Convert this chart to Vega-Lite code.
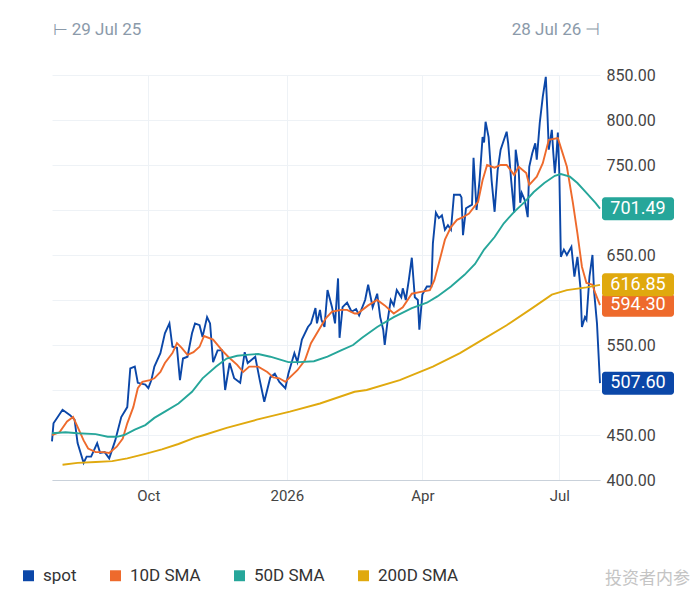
{
  "$schema": "https://vega.github.io/schema/vega-lite/v6.json",
  "width": 548,
  "height": 405,
  "autosize": {"type": "none"},
  "padding": {"left": 52, "top": 75, "right": 100, "bottom": 113},
  "background": "white",
  "title": {
    "text": "投资者内参",
    "orient": "bottom",
    "anchor": "end",
    "font": "Noto Sans CJK SC",
    "fontSize": 17,
    "fontWeight": "normal",
    "color": "#c4c4c4",
    "dx": 16,
    "offset": -13
  },
  "datasets": {
    "series": [
      {"d": "2025-07-29", "s": "spot", "v": 443}, {"d": "2025-07-30", "s": "spot", "v": 463},
      {"d": "2025-08-05", "s": "spot", "v": 478}, {"d": "2025-08-10", "s": "spot", "v": 472},
      {"d": "2025-08-13", "s": "spot", "v": 467}, {"d": "2025-08-15", "s": "spot", "v": 441},
      {"d": "2025-08-19", "s": "spot", "v": 419}, {"d": "2025-08-21", "s": "spot", "v": 426},
      {"d": "2025-08-24", "s": "spot", "v": 426}, {"d": "2025-08-28", "s": "spot", "v": 441},
      {"d": "2025-08-30", "s": "spot", "v": 430}, {"d": "2025-09-02", "s": "spot", "v": 431},
      {"d": "2025-09-05", "s": "spot", "v": 424}, {"d": "2025-09-09", "s": "spot", "v": 444},
      {"d": "2025-09-13", "s": "spot", "v": 470}, {"d": "2025-09-17", "s": "spot", "v": 481},
      {"d": "2025-09-19", "s": "spot", "v": 524}, {"d": "2025-09-22", "s": "spot", "v": 526},
      {"d": "2025-09-24", "s": "spot", "v": 508}, {"d": "2025-09-29", "s": "spot", "v": 506},
      {"d": "2025-10-01", "s": "spot", "v": 502}, {"d": "2025-10-03", "s": "spot", "v": 511},
      {"d": "2025-10-05", "s": "spot", "v": 526}, {"d": "2025-10-09", "s": "spot", "v": 541},
      {"d": "2025-10-12", "s": "spot", "v": 563}, {"d": "2025-10-15", "s": "spot", "v": 574},
      {"d": "2025-10-17", "s": "spot", "v": 548}, {"d": "2025-10-20", "s": "spot", "v": 547},
      {"d": "2025-10-22", "s": "spot", "v": 511}, {"d": "2025-10-24", "s": "spot", "v": 535},
      {"d": "2025-10-27", "s": "spot", "v": 537}, {"d": "2025-10-30", "s": "spot", "v": 563},
      {"d": "2025-11-01", "s": "spot", "v": 574}, {"d": "2025-11-04", "s": "spot", "v": 572},
      {"d": "2025-11-06", "s": "spot", "v": 559}, {"d": "2025-11-09", "s": "spot", "v": 581},
      {"d": "2025-11-11", "s": "spot", "v": 574}, {"d": "2025-11-13", "s": "spot", "v": 531},
      {"d": "2025-11-16", "s": "spot", "v": 544}, {"d": "2025-11-19", "s": "spot", "v": 544},
      {"d": "2025-11-21", "s": "spot", "v": 500}, {"d": "2025-11-24", "s": "spot", "v": 530},
      {"d": "2025-11-27", "s": "spot", "v": 513}, {"d": "2025-12-01", "s": "spot", "v": 508},
      {"d": "2025-12-04", "s": "spot", "v": 542}, {"d": "2025-12-06", "s": "spot", "v": 530},
      {"d": "2025-12-11", "s": "spot", "v": 537}, {"d": "2025-12-14", "s": "spot", "v": 511},
      {"d": "2025-12-17", "s": "spot", "v": 487}, {"d": "2025-12-21", "s": "spot", "v": 514},
      {"d": "2025-12-24", "s": "spot", "v": 518}, {"d": "2025-12-27", "s": "spot", "v": 509},
      {"d": "2025-12-31", "s": "spot", "v": 502}, {"d": "2026-01-02", "s": "spot", "v": 518},
      {"d": "2026-01-06", "s": "spot", "v": 541}, {"d": "2026-01-08", "s": "spot", "v": 531},
      {"d": "2026-01-11", "s": "spot", "v": 556}, {"d": "2026-01-15", "s": "spot", "v": 570},
      {"d": "2026-01-17", "s": "spot", "v": 574}, {"d": "2026-01-20", "s": "spot", "v": 591},
      {"d": "2026-01-21", "s": "spot", "v": 574}, {"d": "2026-01-23", "s": "spot", "v": 589},
      {"d": "2026-01-24", "s": "spot", "v": 578}, {"d": "2026-01-26", "s": "spot", "v": 570},
      {"d": "2026-01-28", "s": "spot", "v": 611}, {"d": "2026-01-31", "s": "spot", "v": 592},
      {"d": "2026-02-02", "s": "spot", "v": 574}, {"d": "2026-02-04", "s": "spot", "v": 624},
      {"d": "2026-02-05", "s": "spot", "v": 558}, {"d": "2026-02-07", "s": "spot", "v": 592},
      {"d": "2026-02-10", "s": "spot", "v": 597}, {"d": "2026-02-13", "s": "spot", "v": 587},
      {"d": "2026-02-16", "s": "spot", "v": 590}, {"d": "2026-02-18", "s": "spot", "v": 583},
      {"d": "2026-02-22", "s": "spot", "v": 600}, {"d": "2026-02-24", "s": "spot", "v": 617},
      {"d": "2026-02-27", "s": "spot", "v": 592}, {"d": "2026-03-02", "s": "spot", "v": 607},
      {"d": "2026-03-04", "s": "spot", "v": 581}, {"d": "2026-03-06", "s": "spot", "v": 567},
      {"d": "2026-03-07", "s": "spot", "v": 550}, {"d": "2026-03-09", "s": "spot", "v": 578},
      {"d": "2026-03-11", "s": "spot", "v": 600}, {"d": "2026-03-13", "s": "spot", "v": 594},
      {"d": "2026-03-15", "s": "spot", "v": 611}, {"d": "2026-03-18", "s": "spot", "v": 603},
      {"d": "2026-03-19", "s": "spot", "v": 613}, {"d": "2026-03-21", "s": "spot", "v": 600},
      {"d": "2026-03-23", "s": "spot", "v": 622}, {"d": "2026-03-25", "s": "spot", "v": 647},
      {"d": "2026-03-27", "s": "spot", "v": 603}, {"d": "2026-03-29", "s": "spot", "v": 600},
      {"d": "2026-03-30", "s": "spot", "v": 567}, {"d": "2026-04-01", "s": "spot", "v": 606},
      {"d": "2026-04-04", "s": "spot", "v": 615}, {"d": "2026-04-07", "s": "spot", "v": 615},
      {"d": "2026-04-08", "s": "spot", "v": 663}, {"d": "2026-04-10", "s": "spot", "v": 697},
      {"d": "2026-04-12", "s": "spot", "v": 691}, {"d": "2026-04-14", "s": "spot", "v": 694},
      {"d": "2026-04-16", "s": "spot", "v": 678}, {"d": "2026-04-18", "s": "spot", "v": 683},
      {"d": "2026-04-20", "s": "spot", "v": 678}, {"d": "2026-04-22", "s": "spot", "v": 717},
      {"d": "2026-04-26", "s": "spot", "v": 717}, {"d": "2026-04-27", "s": "spot", "v": 714},
      {"d": "2026-04-28", "s": "spot", "v": 672}, {"d": "2026-04-30", "s": "spot", "v": 702},
      {"d": "2026-05-04", "s": "spot", "v": 706}, {"d": "2026-05-05", "s": "spot", "v": 758},
      {"d": "2026-05-07", "s": "spot", "v": 700}, {"d": "2026-05-09", "s": "spot", "v": 733},
      {"d": "2026-05-11", "s": "spot", "v": 781}, {"d": "2026-05-12", "s": "spot", "v": 775},
      {"d": "2026-05-13", "s": "spot", "v": 798}, {"d": "2026-05-15", "s": "spot", "v": 781},
      {"d": "2026-05-17", "s": "spot", "v": 733}, {"d": "2026-05-19", "s": "spot", "v": 698},
      {"d": "2026-05-21", "s": "spot", "v": 744}, {"d": "2026-05-23", "s": "spot", "v": 767},
      {"d": "2026-05-27", "s": "spot", "v": 787}, {"d": "2026-05-28", "s": "spot", "v": 774},
      {"d": "2026-05-30", "s": "spot", "v": 733}, {"d": "2026-06-01", "s": "spot", "v": 697},
      {"d": "2026-06-02", "s": "spot", "v": 767}, {"d": "2026-06-04", "s": "spot", "v": 744},
      {"d": "2026-06-05", "s": "spot", "v": 708}, {"d": "2026-06-06", "s": "spot", "v": 719},
      {"d": "2026-06-08", "s": "spot", "v": 711}, {"d": "2026-06-10", "s": "spot", "v": 692},
      {"d": "2026-06-11", "s": "spot", "v": 748}, {"d": "2026-06-13", "s": "spot", "v": 763},
      {"d": "2026-06-15", "s": "spot", "v": 774}, {"d": "2026-06-16", "s": "spot", "v": 756},
      {"d": "2026-06-18", "s": "spot", "v": 797}, {"d": "2026-06-20", "s": "spot", "v": 826},
      {"d": "2026-06-22", "s": "spot", "v": 848}, {"d": "2026-06-23", "s": "spot", "v": 811},
      {"d": "2026-06-24", "s": "spot", "v": 767}, {"d": "2026-06-26", "s": "spot", "v": 789},
      {"d": "2026-06-27", "s": "spot", "v": 763}, {"d": "2026-06-28", "s": "spot", "v": 741},
      {"d": "2026-06-29", "s": "spot", "v": 760}, {"d": "2026-06-30", "s": "spot", "v": 786},
      {"d": "2026-07-01", "s": "spot", "v": 740}, {"d": "2026-07-02", "s": "spot", "v": 648},
      {"d": "2026-07-04", "s": "spot", "v": 656}, {"d": "2026-07-06", "s": "spot", "v": 650},
      {"d": "2026-07-09", "s": "spot", "v": 659}, {"d": "2026-07-11", "s": "spot", "v": 626},
      {"d": "2026-07-13", "s": "spot", "v": 648}, {"d": "2026-07-15", "s": "spot", "v": 614},
      {"d": "2026-07-16", "s": "spot", "v": 570}, {"d": "2026-07-18", "s": "spot", "v": 581},
      {"d": "2026-07-19", "s": "spot", "v": 578}, {"d": "2026-07-21", "s": "spot", "v": 626},
      {"d": "2026-07-23", "s": "spot", "v": 650}, {"d": "2026-07-24", "s": "spot", "v": 611},
      {"d": "2026-07-26", "s": "spot", "v": 574}, {"d": "2026-07-28", "s": "spot", "v": 507.6},

      {"d": "2025-07-29", "s": "10D SMA", "v": 450}, {"d": "2025-08-03", "s": "10D SMA", "v": 453},
      {"d": "2025-08-08", "s": "10D SMA", "v": 465}, {"d": "2025-08-12", "s": "10D SMA", "v": 470},
      {"d": "2025-08-15", "s": "10D SMA", "v": 459}, {"d": "2025-08-19", "s": "10D SMA", "v": 444},
      {"d": "2025-08-22", "s": "10D SMA", "v": 435}, {"d": "2025-08-27", "s": "10D SMA", "v": 431},
      {"d": "2025-09-01", "s": "10D SMA", "v": 431}, {"d": "2025-09-05", "s": "10D SMA", "v": 430},
      {"d": "2025-09-10", "s": "10D SMA", "v": 437}, {"d": "2025-09-14", "s": "10D SMA", "v": 446},
      {"d": "2025-09-17", "s": "10D SMA", "v": 463}, {"d": "2025-09-21", "s": "10D SMA", "v": 481},
      {"d": "2025-09-24", "s": "10D SMA", "v": 502}, {"d": "2025-09-27", "s": "10D SMA", "v": 509},
      {"d": "2025-10-02", "s": "10D SMA", "v": 511}, {"d": "2025-10-05", "s": "10D SMA", "v": 513},
      {"d": "2025-10-09", "s": "10D SMA", "v": 520}, {"d": "2025-10-12", "s": "10D SMA", "v": 530},
      {"d": "2025-10-17", "s": "10D SMA", "v": 541}, {"d": "2025-10-20", "s": "10D SMA", "v": 552},
      {"d": "2025-10-23", "s": "10D SMA", "v": 547}, {"d": "2025-10-27", "s": "10D SMA", "v": 539},
      {"d": "2025-10-31", "s": "10D SMA", "v": 542}, {"d": "2025-11-04", "s": "10D SMA", "v": 548},
      {"d": "2025-11-07", "s": "10D SMA", "v": 560}, {"d": "2025-11-13", "s": "10D SMA", "v": 556},
      {"d": "2025-11-19", "s": "10D SMA", "v": 544}, {"d": "2025-11-23", "s": "10D SMA", "v": 537},
      {"d": "2025-11-29", "s": "10D SMA", "v": 528}, {"d": "2025-12-03", "s": "10D SMA", "v": 520},
      {"d": "2025-12-07", "s": "10D SMA", "v": 526}, {"d": "2025-12-13", "s": "10D SMA", "v": 526},
      {"d": "2025-12-19", "s": "10D SMA", "v": 520}, {"d": "2025-12-23", "s": "10D SMA", "v": 514},
      {"d": "2025-12-27", "s": "10D SMA", "v": 513}, {"d": "2025-12-31", "s": "10D SMA", "v": 509},
      {"d": "2026-01-03", "s": "10D SMA", "v": 514}, {"d": "2026-01-08", "s": "10D SMA", "v": 522},
      {"d": "2026-01-13", "s": "10D SMA", "v": 533}, {"d": "2026-01-17", "s": "10D SMA", "v": 552},
      {"d": "2026-01-23", "s": "10D SMA", "v": 569}, {"d": "2026-01-27", "s": "10D SMA", "v": 580},
      {"d": "2026-01-31", "s": "10D SMA", "v": 587}, {"d": "2026-02-06", "s": "10D SMA", "v": 589},
      {"d": "2026-02-10", "s": "10D SMA", "v": 589}, {"d": "2026-02-15", "s": "10D SMA", "v": 585},
      {"d": "2026-02-17", "s": "10D SMA", "v": 585}, {"d": "2026-02-24", "s": "10D SMA", "v": 594},
      {"d": "2026-03-02", "s": "10D SMA", "v": 600}, {"d": "2026-03-07", "s": "10D SMA", "v": 594},
      {"d": "2026-03-13", "s": "10D SMA", "v": 585}, {"d": "2026-03-19", "s": "10D SMA", "v": 592},
      {"d": "2026-03-25", "s": "10D SMA", "v": 607}, {"d": "2026-03-31", "s": "10D SMA", "v": 609},
      {"d": "2026-04-06", "s": "10D SMA", "v": 611}, {"d": "2026-04-09", "s": "10D SMA", "v": 622},
      {"d": "2026-04-12", "s": "10D SMA", "v": 641}, {"d": "2026-04-16", "s": "10D SMA", "v": 667},
      {"d": "2026-04-20", "s": "10D SMA", "v": 681}, {"d": "2026-04-24", "s": "10D SMA", "v": 689},
      {"d": "2026-04-28", "s": "10D SMA", "v": 692}, {"d": "2026-05-02", "s": "10D SMA", "v": 696},
      {"d": "2026-05-08", "s": "10D SMA", "v": 709}, {"d": "2026-05-11", "s": "10D SMA", "v": 733},
      {"d": "2026-05-14", "s": "10D SMA", "v": 750}, {"d": "2026-05-19", "s": "10D SMA", "v": 747},
      {"d": "2026-05-23", "s": "10D SMA", "v": 750}, {"d": "2026-05-27", "s": "10D SMA", "v": 750},
      {"d": "2026-06-01", "s": "10D SMA", "v": 739}, {"d": "2026-06-04", "s": "10D SMA", "v": 748},
      {"d": "2026-06-09", "s": "10D SMA", "v": 741}, {"d": "2026-06-11", "s": "10D SMA", "v": 728},
      {"d": "2026-06-16", "s": "10D SMA", "v": 737}, {"d": "2026-06-20", "s": "10D SMA", "v": 752},
      {"d": "2026-06-24", "s": "10D SMA", "v": 778}, {"d": "2026-06-30", "s": "10D SMA", "v": 780},
      {"d": "2026-07-03", "s": "10D SMA", "v": 764}, {"d": "2026-07-06", "s": "10D SMA", "v": 748},
      {"d": "2026-07-10", "s": "10D SMA", "v": 708}, {"d": "2026-07-13", "s": "10D SMA", "v": 674},
      {"d": "2026-07-16", "s": "10D SMA", "v": 637}, {"d": "2026-07-19", "s": "10D SMA", "v": 619},
      {"d": "2026-07-23", "s": "10D SMA", "v": 617}, {"d": "2026-07-25", "s": "10D SMA", "v": 607},
      {"d": "2026-07-28", "s": "10D SMA", "v": 594.3},

      {"d": "2025-07-29", "s": "50D SMA", "v": 452}, {"d": "2025-08-07", "s": "50D SMA", "v": 453},
      {"d": "2025-08-15", "s": "50D SMA", "v": 452}, {"d": "2025-08-27", "s": "50D SMA", "v": 451},
      {"d": "2025-09-04", "s": "50D SMA", "v": 448}, {"d": "2025-09-10", "s": "50D SMA", "v": 448},
      {"d": "2025-09-15", "s": "50D SMA", "v": 450}, {"d": "2025-09-22", "s": "50D SMA", "v": 456},
      {"d": "2025-09-29", "s": "50D SMA", "v": 461}, {"d": "2025-10-05", "s": "50D SMA", "v": 469},
      {"d": "2025-10-12", "s": "50D SMA", "v": 476}, {"d": "2025-10-21", "s": "50D SMA", "v": 485},
      {"d": "2025-10-30", "s": "50D SMA", "v": 498}, {"d": "2025-11-06", "s": "50D SMA", "v": 513},
      {"d": "2025-11-15", "s": "50D SMA", "v": 526}, {"d": "2025-11-22", "s": "50D SMA", "v": 535},
      {"d": "2025-11-29", "s": "50D SMA", "v": 538}, {"d": "2025-12-05", "s": "50D SMA", "v": 539},
      {"d": "2025-12-13", "s": "50D SMA", "v": 540}, {"d": "2025-12-21", "s": "50D SMA", "v": 537},
      {"d": "2025-12-27", "s": "50D SMA", "v": 534}, {"d": "2026-01-02", "s": "50D SMA", "v": 531},
      {"d": "2026-01-09", "s": "50D SMA", "v": 531}, {"d": "2026-01-19", "s": "50D SMA", "v": 532},
      {"d": "2026-01-28", "s": "50D SMA", "v": 537}, {"d": "2026-02-06", "s": "50D SMA", "v": 544},
      {"d": "2026-02-14", "s": "50D SMA", "v": 550}, {"d": "2026-02-20", "s": "50D SMA", "v": 558},
      {"d": "2026-03-02", "s": "50D SMA", "v": 570}, {"d": "2026-03-13", "s": "50D SMA", "v": 581},
      {"d": "2026-03-25", "s": "50D SMA", "v": 591}, {"d": "2026-04-04", "s": "50D SMA", "v": 597},
      {"d": "2026-04-11", "s": "50D SMA", "v": 604}, {"d": "2026-04-20", "s": "50D SMA", "v": 615},
      {"d": "2026-04-29", "s": "50D SMA", "v": 628}, {"d": "2026-05-06", "s": "50D SMA", "v": 640},
      {"d": "2026-05-12", "s": "50D SMA", "v": 656}, {"d": "2026-05-19", "s": "50D SMA", "v": 670},
      {"d": "2026-05-25", "s": "50D SMA", "v": 685}, {"d": "2026-06-01", "s": "50D SMA", "v": 698},
      {"d": "2026-06-08", "s": "50D SMA", "v": 709}, {"d": "2026-06-14", "s": "50D SMA", "v": 720},
      {"d": "2026-06-21", "s": "50D SMA", "v": 730}, {"d": "2026-06-28", "s": "50D SMA", "v": 738},
      {"d": "2026-07-02", "s": "50D SMA", "v": 740}, {"d": "2026-07-08", "s": "50D SMA", "v": 737},
      {"d": "2026-07-13", "s": "50D SMA", "v": 730}, {"d": "2026-07-19", "s": "50D SMA", "v": 719},
      {"d": "2026-07-25", "s": "50D SMA", "v": 708}, {"d": "2026-07-28", "s": "50D SMA", "v": 701.49},

      {"d": "2025-08-05", "s": "200D SMA", "v": 417}, {"d": "2025-08-15", "s": "200D SMA", "v": 419},
      {"d": "2025-08-27", "s": "200D SMA", "v": 420}, {"d": "2025-09-07", "s": "200D SMA", "v": 421},
      {"d": "2025-09-17", "s": "200D SMA", "v": 424}, {"d": "2025-09-29", "s": "200D SMA", "v": 429},
      {"d": "2025-10-10", "s": "200D SMA", "v": 434}, {"d": "2025-10-21", "s": "200D SMA", "v": 440},
      {"d": "2025-11-01", "s": "200D SMA", "v": 447}, {"d": "2025-11-07", "s": "200D SMA", "v": 450},
      {"d": "2025-11-22", "s": "200D SMA", "v": 458}, {"d": "2025-12-12", "s": "200D SMA", "v": 467},
      {"d": "2026-01-03", "s": "200D SMA", "v": 476}, {"d": "2026-01-23", "s": "200D SMA", "v": 485},
      {"d": "2026-02-15", "s": "200D SMA", "v": 498}, {"d": "2026-02-23", "s": "200D SMA", "v": 500},
      {"d": "2026-03-17", "s": "200D SMA", "v": 511}, {"d": "2026-04-08", "s": "200D SMA", "v": 526},
      {"d": "2026-04-26", "s": "200D SMA", "v": 541}, {"d": "2026-05-11", "s": "200D SMA", "v": 556},
      {"d": "2026-05-27", "s": "200D SMA", "v": 572}, {"d": "2026-06-13", "s": "200D SMA", "v": 591},
      {"d": "2026-06-26", "s": "200D SMA", "v": 606}, {"d": "2026-07-06", "s": "200D SMA", "v": 611},
      {"d": "2026-07-19", "s": "200D SMA", "v": 614}, {"d": "2026-07-28", "s": "200D SMA", "v": 616.85}
    ],
    "last": [
      {"d": "2026-07-28", "s": "50D SMA", "v": 701.49},
      {"d": "2026-07-28", "s": "10D SMA", "v": 594.3},
      {"d": "2026-07-28", "s": "200D SMA", "v": 616.85},
      {"d": "2026-07-28", "s": "spot", "v": 507.6}
    ]
  },
  "layer": [
    {
      "data": {"name": "series"},
      "mark": {"type": "line", "strokeWidth": 1.9, "interpolate": "linear"},
      "encoding": {
        "x": {
          "field": "d",
          "type": "temporal",
          "scale": {"domain": ["2025-07-29", "2026-07-28"]},
          "axis": {
            "orient": "bottom",
            "title": null,
            "values": ["2025-10-01T00:00:00", "2026-01-01T00:00:00", "2026-04-01T00:00:00", "2026-07-01T00:00:00"],
            "labelExpr": "month(datum.value) == 0 ? timeFormat(datum.value, '%Y') : timeFormat(datum.value, '%b')",
            "grid": true,
            "gridColor": "#eef2f6",
            "ticks": false,
            "domain": true,
            "domainColor": "#c9d1da",
            "labelPadding": 8
          }
        },
        "y": {
          "field": "v",
          "type": "quantitative",
          "scale": {"domain": [400, 850], "nice": false, "zero": false},
          "axis": {
            "orient": "right",
            "title": null,
            "values": [400, 450, 500, 550, 600, 650, 700, 750, 800, 850],
            "labelExpr": "datum.value == 500 || datum.value == 600 || datum.value == 700 ? '' : format(datum.value, '.2f')",
            "grid": true,
            "gridColor": "#eef2f6",
            "ticks": false,
            "domain": false,
            "labelPadding": 6,
            "labelFontSize": 16
          }
        },
        "color": {
          "field": "s",
          "type": "nominal",
          "scale": {
            "domain": ["spot", "10D SMA", "50D SMA", "200D SMA"],
            "range": ["#0b47a8", "#ee6a2c", "#26a69a", "#e0a90e"]
          },
          "legend": {
            "title": null,
            "orient": "none",
            "direction": "horizontal",
            "legendX": -32,
            "legendY": 492,
            "symbolType": "square",
            "symbolSize": 120,
            "symbolStrokeWidth": 0,
            "labelFontSize": 17,
            "labelColor": "#333333",
            "labelOffset": 6,
            "columnPadding": 30
          }
        }
      }
    },
    {
      "data": {"name": "last"},
      "mark": {"type": "rect", "width": 72, "height": 23, "xOffset": 38, "cornerRadius": 3},
      "encoding": {
        "x": {
          "field": "d",
          "type": "temporal",
          "axis": {
            "orient": "top",
            "title": null,
            "values": ["2025-07-29T00:00:00", "2026-07-28T00:00:00"],
            "labelExpr": "datum.index == 0 ? '⊢  29 Jul 25' : '28 Jul 26  ⊣'",
            "labelFlush": true,
            "labelFontSize": 17,
            "labelColor": "#8b9aaa",
            "grid": false,
            "ticks": false,
            "domain": false,
            "labelPadding": 37
          }
        },
        "y": {"field": "v", "type": "quantitative"},
        "color": {"field": "s", "type": "nominal"}
      }
    },
    {
      "data": {"name": "last"},
      "mark": {"type": "text", "xOffset": 38, "color": "white", "fontSize": 18, "font": "Roboto", "align": "center", "baseline": "middle"},
      "encoding": {
        "x": {"field": "d", "type": "temporal", "axis": null},
        "y": {"field": "v", "type": "quantitative"},
        "text": {"field": "v", "type": "quantitative", "format": ".2f"}
      }
    }
  ],
  "resolve": {"axis": {"x": "independent"}},
  "config": {
    "view": {"stroke": null},
    "font": "Roboto",
    "axis": {"labelFont": "Roboto", "labelFontSize": 15, "labelColor": "#444444"},
    "legend": {"labelFont": "Roboto"}
  }
}
